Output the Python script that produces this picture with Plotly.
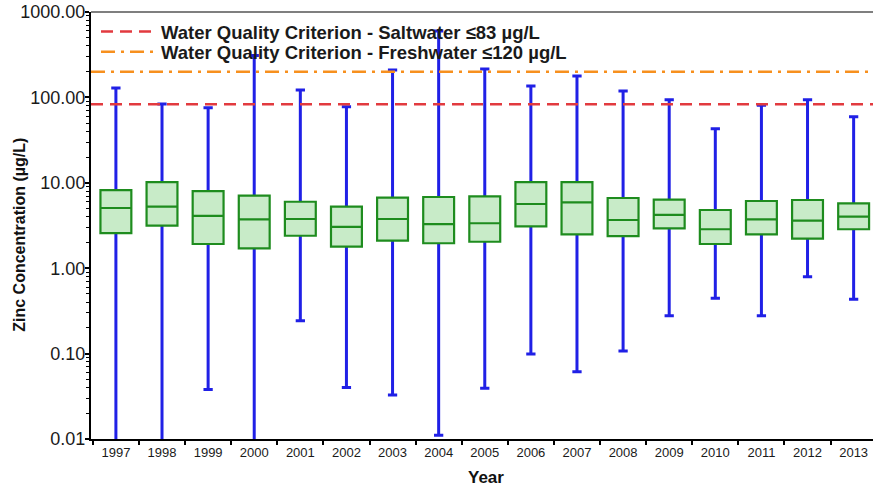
import plotly.graph_objects as go

years = ["1997", "1998", "1999", "2000", "2001", "2002", "2003", "2004", "2005",
         "2006", "2007", "2008", "2009", "2010", "2011", "2012", "2013"]
q1 = [2.58, 3.15, 1.92, 1.71, 2.40, 1.79, 2.10, 1.96, 2.04, 3.09, 2.49, 2.38, 2.93, 1.92, 2.49, 2.22, 2.86]
median = [5.07, 5.25, 4.09, 3.74, 3.77, 3.04, 3.77, 3.29, 3.36, 5.65, 5.91, 3.67, 4.20, 2.86, 3.74, 3.60, 4.01]
q3 = [8.2, 10.2, 8.0, 7.06, 6.0, 5.25, 6.69, 6.82, 6.95, 10.2, 10.2, 6.64, 6.34, 4.8, 6.12, 6.29, 5.75]
minimum = [0.005, 0.005, 0.038, 0.005, 0.243, 0.040, 0.0328, 0.0111, 0.0393, 0.099, 0.0614, 0.107, 0.278, 0.444, 0.278, 0.795, 0.432]
maximum = [129, 83.7, 75.6, 310, 122, 77.8, 209, 600, 215, 136, 178, 119, 94, 43, 80.8, 94, 59.4]

saltwater_line = 83
freshwater_line = 200
saltwater_label = "Water Quality Criterion - Saltwater ≤83 µg/L"
freshwater_label = "Water Quality Criterion - Freshwater ≤120 µg/L"

FONT = "Liberation Sans, Arial, Helvetica, sans-serif"
BLUE = "#2020e6"
GREEN = "#1e8c1e"
FILL = "#c8ebc8"
RED = "#e23a3f"
ORANGE = "#f7901e"

fig = go.Figure()

# whiskers (blue) - collapsed box at median, covered by green box
fig.add_trace(go.Box(
    x=years, q1=median, median=median, q3=median,
    lowerfence=minimum, upperfence=maximum,
    line=dict(color=BLUE, width=3), fillcolor="rgba(0,0,0,0)",
    whiskerwidth=0.3, showlegend=False, hoverinfo="skip",
))
# boxes (green)
fig.add_trace(go.Box(
    x=years, q1=q1, median=median, q3=q3,
    lowerfence=q1, upperfence=q3,
    line=dict(color=GREEN, width=2.2), fillcolor=FILL,
    whiskerwidth=0, showlegend=False,
))

fig.add_hline(y=saltwater_line, line=dict(color=RED, width=2.5, dash="12px,7px"))
fig.add_hline(y=freshwater_line, line=dict(color=ORANGE, width=2.5, dash="14px,6px,3px,6px"))

fig.add_trace(go.Scatter(x=[None], y=[None], mode="lines", name=saltwater_label,
                         line=dict(color=RED, width=2.5, dash="12px,7px"), legend="legend"))
fig.add_trace(go.Scatter(x=[None], y=[None], mode="lines", name=freshwater_label,
                         line=dict(color=ORANGE, width=2.5, dash="14px,6px,3px,6px"), legend="legend2"))

legend_style = dict(x=0.0064, xanchor="left", yanchor="middle",
                    bgcolor="rgba(0,0,0,0)", font=dict(size=18.5, family=FONT, weight="bold"),
                    itemwidth=55)

fig.update_layout(
    width=873, height=491,
    margin=dict(l=91, r=0, t=12, b=52, autoexpand=False),
    paper_bgcolor="white", plot_bgcolor="white",
    boxmode="overlay", boxgap=0.33, boxgroupgap=0,
    font=dict(family=FONT, color="#1a1a1a"),
    legend=dict(y=0.953, **legend_style),
    legend2=dict(y=0.906, **legend_style),
    showlegend=True,
)

fig.update_xaxes(
    type="category", range=[-0.54, 16.42], automargin=False,
    showline=True, linecolor="black", linewidth=2,
    ticks="outside", tickson="boundaries", ticklen=4, tickcolor="black", tickwidth=2,
    tickfont=dict(size=13, family=FONT), showgrid=False, zeroline=False,
    ticklabeloverflow="allow",
)
fig.update_yaxes(
    type="log", range=[-2, 3], automargin=False,
    tickvals=[0.01, 0.1, 1, 10, 100, 1000],
    ticktext=["0.01", "0.10", "1.00", "10.00", "100.00", "1000.00"],
    showline=True, linecolor="black", linewidth=2,
    ticks="outside", ticklen=4, tickcolor="black", tickwidth=1.5,
    minor=dict(ticks="outside", ticklen=3, dtick="D1", tickcolor="black", tickwidth=1),
    tickfont=dict(size=18, family=FONT), showgrid=False, zeroline=False,
    ticklabeloverflow="allow", ticklabelstandoff=-4,
)

fig.add_shape(type="line", xref="paper", yref="paper", x0=0, x1=1, y0=1, y1=1,
              line=dict(color="#555555", width=1.5))

fig.add_annotation(text="<b>Zinc Concentration (µg/L)</b>", xref="paper", yref="paper",
                   x=-0.091, y=0.478, xanchor="center", yanchor="middle",
                   textangle=-90, showarrow=False,
                   font=dict(size=16, family=FONT, color="#111"))
fig.add_annotation(text="<b>Year</b>", xref="paper", yref="paper",
                   x=0.505, y=-0.091, xanchor="center", yanchor="middle", showarrow=False,
                   font=dict(size=17, family=FONT, color="#111"))

# remove the default page margin so the 873x491 figure fills the window exactly
fig.write_html("out.html", config={"displayModeBar": False},
               post_script="document.body.style.margin='0px';")
